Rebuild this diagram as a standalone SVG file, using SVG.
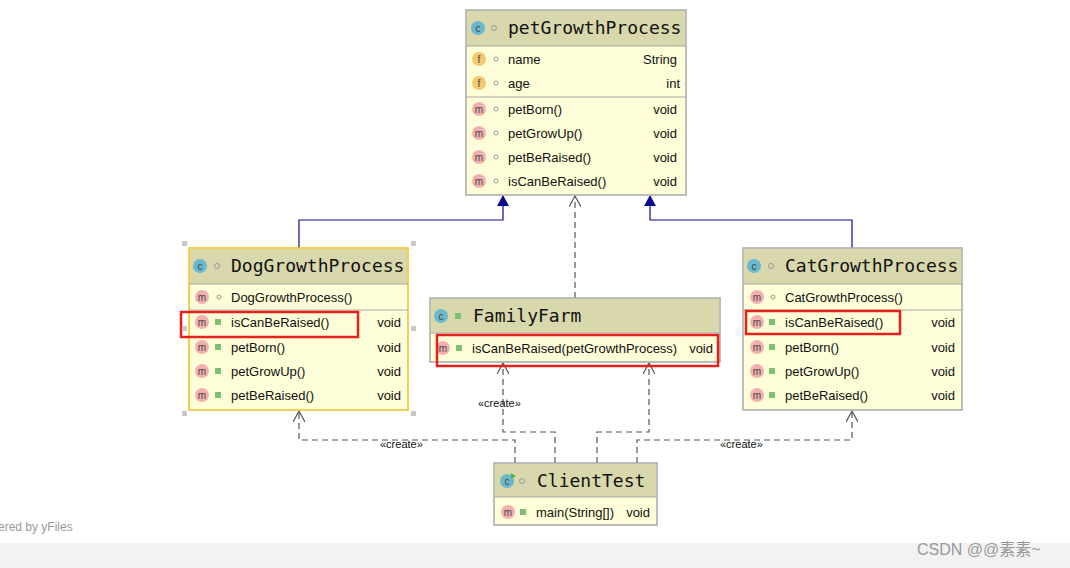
<svg xmlns="http://www.w3.org/2000/svg" width="1070" height="568" viewBox="0 0 1070 568">
<style>
.box{fill:#fefed8;stroke:#a8a8a8;stroke-width:1.5}
.hd{fill:#d8d8ac}
.sep{stroke:#a8a8a8;stroke-width:1}
.t{font-family:"Liberation Sans",Arial,sans-serif;font-size:13px;fill:#111}
.r{text-anchor:end}
.title{font-family:"DejaVu Sans Mono",monospace;font-size:18px;fill:#111}
.ci{fill:#6ab8cc}
.mi{fill:#f4b0b0}
.fi{fill:#f4c870}
.il{font-family:"Liberation Sans",Arial,sans-serif;font-size:10px;fill:#444;text-anchor:middle}
.dot{fill:none;stroke:#999;stroke-width:1}
.lock{fill:#7cc070}
.red{fill:none;stroke:#e8201c;stroke-width:2.5}
.inh{fill:none;stroke:#0a0a90;stroke-width:1.2}
.dep{fill:none;stroke:#555;stroke-width:1.2;stroke-dasharray:6,4}
.lbl{font-family:"Liberation Sans",Arial,sans-serif;font-size:11px;fill:#111}
.hdl{fill:#c8c8c8}
</style>
<defs>
<marker id="tri" markerWidth="12" markerHeight="12" refX="10" refY="6" orient="auto" markerUnits="userSpaceOnUse"><path d="M0,0 L11,6 L0,12 z" fill="#0a0a90"/></marker>
<marker id="open" markerWidth="12" markerHeight="12" refX="11" refY="6" orient="auto" markerUnits="userSpaceOnUse"><path d="M0,0 L11,6 L0,12" fill="none" stroke="#555" stroke-width="1.2"/></marker>
</defs>
<rect x="0" y="0" width="1070" height="568" fill="#fff"/>
<rect x="0" y="543" width="1070" height="25" fill="#f2f2f2"/>
<text x="-2" y="531" class="t" style="fill:#999;font-size:12px">ered by yFiles</text>
<text x="917" y="555" style="font-family:'Liberation Sans','Noto Sans CJK SC',sans-serif;font-size:16px;fill:#999">CSDN @@素素~</text>

<g id="connectors">
<path class="inh" d="M299,248 V220 H503 V196" marker-end="url(#tri)"/>
<path class="inh" d="M852,248 V220 H650 V196" marker-end="url(#tri)"/>
<path class="dep" d="M575,298 V196" marker-end="url(#open)"/>
<path class="dep" d="M515,463 V440 H299 V411" marker-end="url(#open)"/>
<path class="dep" d="M555,463 V432 H503 V363" marker-end="url(#open)"/>
<path class="dep" d="M597,463 V432 H649 V363" marker-end="url(#open)"/>
<path class="dep" d="M637,463 V440 H852 V411" marker-end="url(#open)"/>
<text x="380" y="448" class="lbl">«create»</text>
<text x="478" y="407" class="lbl">«create»</text>
<text x="720" y="448" class="lbl">«create»</text>
</g>

<g id="petGrowthProcess">
<rect x="466" y="10" width="220" height="185" class="box"/>
<rect x="467" y="11" width="218" height="35" class="hd"/>
<line x1="466" y1="46" x2="686" y2="46" class="sep"/>
<circle cx="478" cy="28" r="7" class="ci"/><text x="478" y="32" class="il">c</text>
<circle cx="494" cy="28" r="2.5" class="dot"/>
<text x="508" y="34" class="title">petGrowthProcess</text>
<circle cx="479" cy="59" r="7" class="fi"/><text x="479" y="63" class="il">f</text><circle cx="496" cy="59" r="2" class="dot"/>
<text x="508" y="64" class="t">name</text><text x="677" y="64" class="t r">String</text>
<circle cx="479" cy="83" r="7" class="fi"/><text x="479" y="87" class="il">f</text><circle cx="496" cy="83" r="2" class="dot"/>
<text x="508" y="88" class="t">age</text><text x="680" y="88" class="t r">int</text>
<line x1="466" y1="97" x2="686" y2="97" class="sep"/>
<circle cx="479" cy="109" r="7" class="mi"/><text x="479" y="113" class="il">m</text><circle cx="496" cy="109" r="2" class="dot"/>
<text x="508" y="114" class="t">petBorn()</text><text x="677" y="114" class="t r">void</text>
<circle cx="479" cy="133" r="7" class="mi"/><text x="479" y="137" class="il">m</text><circle cx="496" cy="133" r="2" class="dot"/>
<text x="508" y="138" class="t">petGrowUp()</text><text x="677" y="138" class="t r">void</text>
<circle cx="479" cy="157" r="7" class="mi"/><text x="479" y="161" class="il">m</text><circle cx="496" cy="157" r="2" class="dot"/>
<text x="508" y="162" class="t">petBeRaised()</text><text x="677" y="162" class="t r">void</text>
<circle cx="479" cy="181" r="7" class="mi"/><text x="479" y="185" class="il">m</text><circle cx="496" cy="181" r="2" class="dot"/>
<text x="508" y="186" class="t">isCanBeRaised()</text><text x="677" y="186" class="t r">void</text>
</g>

<g id="DogGrowthProcess">
<rect x="189" y="248" width="219" height="162" class="box" style="stroke:#f0c020"/>
<rect x="190" y="249" width="217" height="35" class="hd"/>
<line x1="189" y1="284" x2="408" y2="284" class="sep"/>
<circle cx="200" cy="266" r="7" class="ci"/><text x="200" y="270" class="il">c</text><circle cx="217" cy="266" r="2.5" class="dot"/>
<text x="231" y="272" class="title">DogGrowthProcess</text>
<circle cx="202" cy="297" r="7" class="mi"/><text x="202" y="301" class="il">m</text><circle cx="219" cy="297" r="2" class="dot"/>
<text x="231" y="302" class="t">DogGrowthProcess()</text>
<line x1="189" y1="310" x2="408" y2="310" class="sep"/>
<circle cx="202" cy="322" r="7" class="mi"/><text x="202" y="326" class="il">m</text><rect x="215" y="319" width="6" height="6" class="lock"/>
<text x="231" y="327" class="t">isCanBeRaised()</text><text x="401" y="327" class="t r">void</text>
<circle cx="202" cy="347" r="7" class="mi"/><text x="202" y="351" class="il">m</text><rect x="215" y="344" width="6" height="6" class="lock"/>
<text x="231" y="352" class="t">petBorn()</text><text x="401" y="352" class="t r">void</text>
<circle cx="202" cy="371" r="7" class="mi"/><text x="202" y="375" class="il">m</text><rect x="215" y="368" width="6" height="6" class="lock"/>
<text x="231" y="376" class="t">petGrowUp()</text><text x="401" y="376" class="t r">void</text>
<circle cx="202" cy="395" r="7" class="mi"/><text x="202" y="399" class="il">m</text><rect x="215" y="392" width="6" height="6" class="lock"/>
<text x="231" y="400" class="t">petBeRaised()</text><text x="401" y="400" class="t r">void</text>
<rect x="181" y="312" width="177" height="25" class="red"/>
<rect x="182" y="241" width="5" height="5" class="hdl"/><rect x="411" y="241" width="5" height="5" class="hdl"/>
<rect x="182" y="326" width="5" height="5" class="hdl"/><rect x="411" y="326" width="5" height="5" class="hdl"/>
<rect x="182" y="411" width="5" height="5" class="hdl"/><rect x="411" y="411" width="5" height="5" class="hdl"/>
</g>

<g id="CatGrowthProcess">
<rect x="743" y="248" width="219" height="162" class="box"/>
<rect x="744" y="249" width="217" height="35" class="hd"/>
<line x1="743" y1="284" x2="962" y2="284" class="sep"/>
<circle cx="754" cy="266" r="7" class="ci"/><text x="754" y="270" class="il">c</text><circle cx="771" cy="266" r="2.5" class="dot"/>
<text x="785" y="272" class="title">CatGrowthProcess</text>
<circle cx="757" cy="297" r="7" class="mi"/><text x="757" y="301" class="il">m</text><circle cx="773" cy="297" r="2" class="dot"/>
<text x="785" y="302" class="t">CatGrowthProcess()</text>
<line x1="743" y1="310" x2="962" y2="310" class="sep"/>
<circle cx="757" cy="322" r="7" class="mi"/><text x="757" y="326" class="il">m</text><rect x="769" y="319" width="6" height="6" class="lock"/>
<text x="785" y="327" class="t">isCanBeRaised()</text><text x="955" y="327" class="t r">void</text>
<circle cx="757" cy="347" r="7" class="mi"/><text x="757" y="351" class="il">m</text><rect x="769" y="344" width="6" height="6" class="lock"/>
<text x="785" y="352" class="t">petBorn()</text><text x="955" y="352" class="t r">void</text>
<circle cx="757" cy="371" r="7" class="mi"/><text x="757" y="375" class="il">m</text><rect x="769" y="368" width="6" height="6" class="lock"/>
<text x="785" y="376" class="t">petGrowUp()</text><text x="955" y="376" class="t r">void</text>
<circle cx="757" cy="395" r="7" class="mi"/><text x="757" y="399" class="il">m</text><rect x="769" y="392" width="6" height="6" class="lock"/>
<text x="785" y="400" class="t">petBeRaised()</text><text x="955" y="400" class="t r">void</text>
<rect x="746" y="311" width="154" height="23" class="red"/>
</g>

<g id="FamilyFarm">
<rect x="430" y="298" width="290" height="64" class="box"/>
<rect x="431" y="299" width="288" height="34" class="hd"/>
<line x1="430" y1="333" x2="720" y2="333" class="sep"/>
<circle cx="441" cy="316" r="7" class="ci"/><text x="441" y="320" class="il">c</text><rect x="455" y="313" width="6" height="6" class="lock"/>
<text x="473" y="322" class="title">FamilyFarm</text>
<circle cx="443" cy="348" r="7" class="mi"/><text x="443" y="352" class="il">m</text><rect x="456" y="345" width="6" height="6" class="lock"/>
<text x="472" y="353" class="t">isCanBeRaised(petGrowthProcess)</text><text x="713" y="353" class="t r">void</text>
<rect x="437" y="335" width="281" height="31" class="red"/>
</g>

<g id="ClientTest">
<rect x="494" y="463" width="163" height="62" class="box"/>
<rect x="495" y="464" width="161" height="33" class="hd"/>
<line x1="494" y1="497" x2="657" y2="497" class="sep"/>
<circle cx="507" cy="481" r="7" class="ci"/><text x="507" y="485" class="il">c</text><path d="M511,473 l5,3 l-5,3z" fill="#4caf50"/><circle cx="522" cy="481" r="2.5" class="dot"/>
<text x="537" y="487" class="title">ClientTest</text>
<circle cx="508" cy="512" r="7" class="mi"/><text x="508" y="516" class="il">m</text><rect x="520" y="509" width="6" height="6" class="lock"/>
<text x="536" y="517" class="t">main(String[])</text><text x="650" y="517" class="t r">void</text>
</g>
</svg>
